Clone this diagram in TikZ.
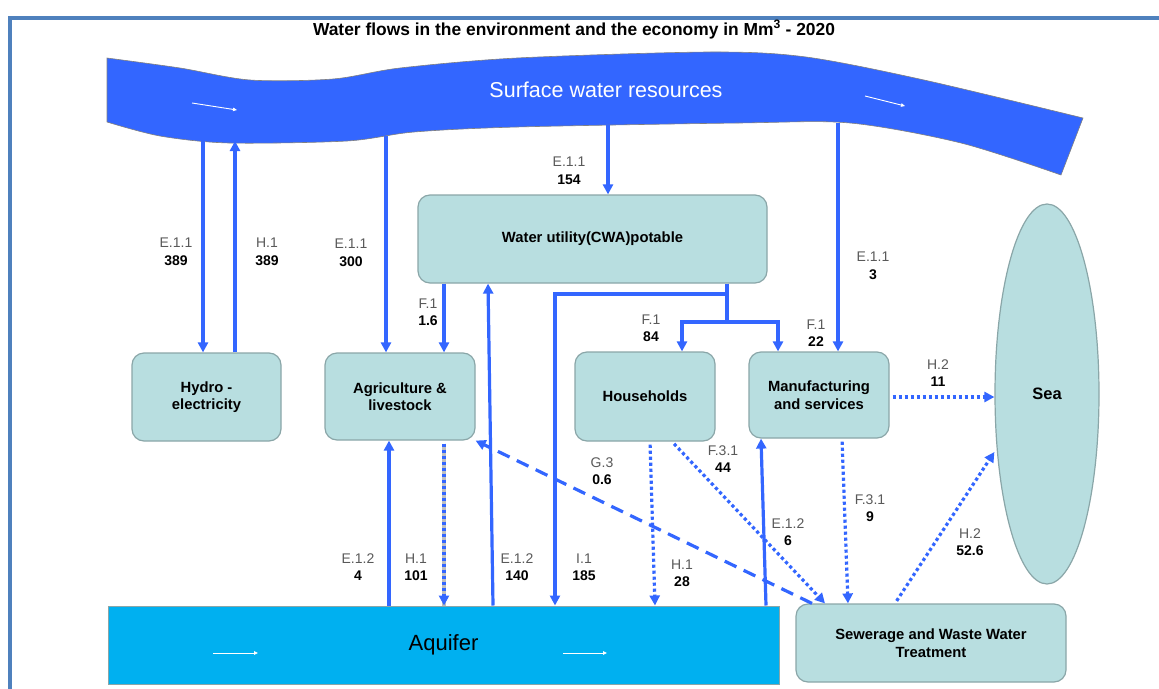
\documentclass[tikz,border=0pt]{standalone}
\usepackage{fontspec}
\setmainfont{Liberation Sans}
\usepackage{xcolor}
\usetikzlibrary{arrows.meta,shapes.geometric}

\definecolor{flowblue}{RGB}{51,102,255}
\definecolor{riverblue}{RGB}{51,102,255}
\definecolor{aquiblue}{RGB}{0,176,240}
\definecolor{boxfill}{RGB}{184,222,224}
\definecolor{boxline}{RGB}{138,166,168}
\definecolor{framecol}{RGB}{79,129,189}

\begin{document}
\begin{tikzpicture}[x=1pt, y=-1pt,
    box/.style={draw=boxline, fill=boxfill, rounded corners=12pt, line width=1.2pt, align=center, inner sep=0pt, font=\bfseries\fontsize{14.8}{17.5}\selectfont},
    lbl/.style={align=center, inner sep=0pt, text=black!65, font=\fontsize{14}{17.5}\selectfont},
    flow/.style={draw=flowblue, line width=3.2pt, -{Triangle[length=10pt,width=10pt]}},
    ret/.style={flow, dash pattern=on 3.2pt off 2.8pt, shorten <=3pt},
    reuse/.style={flow, dash pattern=on 13pt off 8pt},
    graydots/.style={preaction={draw=black!25, line width=3.6pt, solid, -}}]
\useasboundingbox (0,0) rectangle (1159,688);
\draw[framecol, line width=3.5pt] (10,18) rectangle (1180,710);

\node (title) at (574,29.5) [font=\bfseries\fontsize{17.4}{20}\selectfont] {Water flows in the environment and the economy in Mm\textsuperscript{3} - 2020};

% surface water
\filldraw[fill=riverblue, draw=black!50, line width=0.6pt]
  plot[smooth] coordinates {(107,58) (180,68) (250,80) (333,79) (400,68) (517,58) (710,52) (806,57) (924,80) (1083,118)}
  -- plot[smooth] coordinates {(1061,175) (961,143) (850,123) (739,123) (517,127) (414,132) (347,141) (229,143) (160,136) (107,122)}
  -- cycle;
\node (surface) at (606,90) [text=white, font=\fontsize{21.5}{24}\selectfont] {Surface water resources};
\draw[white, line width=0.9pt, -{Triangle[length=4pt,width=3.5pt]}] (192,103) -- (237,110);
\draw[white, line width=0.9pt, -{Triangle[length=4pt,width=3.5pt]}] (865,96) -- (905,106);

% units
\node (wu) at (592.5,239) [box, minimum width=349pt, minimum height=88pt] {Water utility(CWA)potable};
\node (hydro) at (206.5,397) [box, minimum width=149pt, minimum height=88pt] {Hydro -\\electricity};
\node (agri) at (400,396.5) [box, minimum width=150pt, minimum height=87pt] {Agriculture \&\\livestock};
\node (hh) at (645,396.5) [box, minimum width=140pt, minimum height=89pt] {Households};
\node (mfg) at (819,395) [box, minimum width=140pt, minimum height=86pt] {Manufacturing\\and services};
\node (sew) at (931,643) [box, minimum width=270pt, minimum height=78pt] {Sewerage and Waste Water\\Treatment};
\node (sea) at (1047,394) [ellipse, draw=boxline, fill=boxfill, line width=1.2pt, minimum width=104pt, minimum height=380pt, inner sep=0pt, font=\bfseries\fontsize{16.5}{19}\selectfont] {Sea};
\node (aquifer) at (443.5,645) [draw=boxline, fill=aquiblue, line width=1pt, minimum width=671pt, minimum height=78pt, inner sep=0pt, font=\fontsize{22}{26}\selectfont] {Aquifer};
\draw[white, line width=0.9pt, -{Triangle[length=4pt,width=3.5pt]}] (213,653) -- (258,653);
\draw[white, line width=0.9pt, -{Triangle[length=4pt,width=3.5pt]}] (563,653) -- (607,653);

% points on the river bed
\coordinate (rv1) at (203,139);
\coordinate (rv2) at (235,141);
\coordinate (rv3) at (386,136);
\coordinate (rv4) at (608,125);
\coordinate (rv5) at (838,123);
\coordinate (split) at (727,322);
\coordinate (bend) at (555,294);

% abstraction and supply
\draw[flow] (rv1) -- (rv1 |- hydro.north);
\draw[flow] (hydro.north -| rv2) -- (rv2);
\draw[flow] (rv3) -- (rv3 |- agri.north);
\draw[flow] (rv4) -- (rv4 |- wu.north);
\draw[flow] (rv5) -- (rv5 |- mfg.north);
\draw[flow] (wu.south -| 444,0) -- (agri.north -| 444,0);
\draw[flow] (aquifer.north -| 493,0) -- (wu.south -| 488,0);
\draw[flow] (wu.south -| split) |- (bend) -- (bend |- aquifer.north);
\draw[flow] (wu.south -| split) -- (split) -| (hh.north -| 682,0);
\draw[flow] (split) -| (mfg.north -| 778,0);
\draw[flow] (aquifer.north -| 389,0) -- (agri.south -| 389,0);
\draw[flow] (aquifer.north -| 766,0) -- (mfg.south -| 761,0);

% returns
\draw[ret, graydots] (agri.south -| 444,0) -- (aquifer.north -| 444,0);
\draw[ret] (hh.south -| 650,0) -- (aquifer.north -| 655,0);
\draw[ret] (hh.south -| 672,0) -- (sew.north -| 825,0);
\draw[ret] (mfg.south -| 842,0) -- (sew.north -| 848,0);
\draw[ret] (mfg.east |- 0,397) -- (sea.west |- 0,397);
\draw[ret] (sew.north -| 895,0) -- (sea.west |- 0,452);
\draw[reuse] (sew.north -| 812,0) -- (agri.south east);

% labels
\node (l1) at (176,252) [lbl] {E.1.1\\\textcolor{black}{\bfseries 389}};
\node (l2) at (267,252) [lbl] {H.1\\\textcolor{black}{\bfseries 389}};
\node (l3) at (351,253) [lbl] {E.1.1\\\textcolor{black}{\bfseries 300}};
\node (l4) at (569,171) [lbl] {E.1.1\\\textcolor{black}{\bfseries 154}};
\node (l5) at (428,312) [lbl] {F.1\\\textcolor{black}{\bfseries 1.6}};
\node (l6) at (651,328) [lbl] {F.1\\\textcolor{black}{\bfseries 84}};
\node (l7) at (816,333) [lbl] {F.1\\\textcolor{black}{\bfseries 22}};
\node (l8) at (873,266) [lbl] {E.1.1\\\textcolor{black}{\bfseries 3}};
\node (l9) at (938,373) [lbl] {H.2\\\textcolor{black}{\bfseries 11}};
\node (l10) at (358,567) [lbl] {E.1.2\\\textcolor{black}{\bfseries 4}};
\node (l11) at (416,567) [lbl] {H.1\\\textcolor{black}{\bfseries 101}};
\node (l12) at (517,567) [lbl] {E.1.2\\\textcolor{black}{\bfseries 140}};
\node (l13) at (584,567) [lbl] {I.1\\\textcolor{black}{\bfseries 185}};
\node (l14) at (602,471) [lbl] {G.3\\\textcolor{black}{\bfseries 0.6}};
\node (l15) at (682,573) [lbl] {H.1\\\textcolor{black}{\bfseries 28}};
\node (l16) at (723,459) [lbl] {F.3.1\\\textcolor{black}{\bfseries 44}};
\node (l17) at (788,532) [lbl] {E.1.2\\\textcolor{black}{\bfseries 6}};
\node (l18) at (870,508) [lbl] {F.3.1\\\textcolor{black}{\bfseries 9}};
\node (l19) at (970,542) [lbl] {H.2\\\textcolor{black}{\bfseries 52.6}};
\end{tikzpicture}
\end{document}
